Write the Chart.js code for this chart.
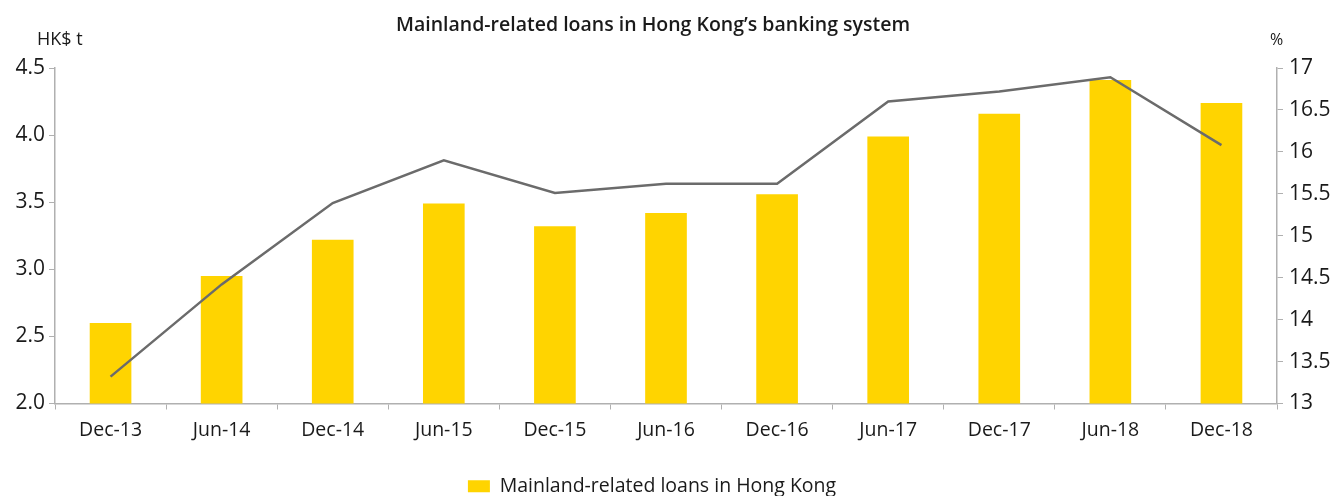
<!DOCTYPE html>
<html>
<head>
<meta charset="utf-8">
<script src="https://cdn.jsdelivr.net/npm/chart.js@4"></script>
<style>
  body { margin: 0; background: #fff; font-family: "Open Sans", sans-serif; }
  #wrap { position: relative; width: 1338px; height: 496px; }
  .lbl { position: absolute; color: #1a1a1a; white-space: nowrap; }
  #title { left: 0; width: 1306px; top: 10px; text-align: center; font-size: 19.5px; font-weight: 600; }
  #unitLeft { left: 37px; top: 26px; font-size: 18px; }
  #unitRight { left: 1270px; top: 28px; font-size: 16px; }
</style>
</head>
<body>
<div id="wrap">
  <canvas id="chart" width="1338" height="496"></canvas>
  <div class="lbl" id="title">Mainland-related loans in Hong Kong’s banking system</div>
  <div class="lbl" id="unitLeft">HK$ t</div>
  <div class="lbl" id="unitRight">%</div>
</div>
<script>
// periodos
const periodos = ['Dec-13', 'Jun-14', 'Dec-14', 'Jun-15', 'Dec-15', 'Jun-16', 'Dec-16', 'Jun-17', 'Dec-17', 'Jun-18', 'Dec-18'];
// emprestimos (HK$ t) - barras
const emprestimos = [2.60, 2.95, 3.22, 3.49, 3.32, 3.42, 3.56, 3.99, 4.16, 4.41, 4.24];
// participacao (%) - linha, eixo direito
const participacao = [13.32, 14.42, 15.39, 15.90, 15.51, 15.62, 15.62, 16.60, 16.72, 16.89, 16.08];
// ticks dos eixos
const ticksEsq = [2.0, 2.5, 3.0, 3.5, 4.0, 4.5];
const ticksDir = [13, 13.5, 14, 14.5, 15, 15.5, 16, 16.5, 17];

const corEixo = '#b0b0b0';
const corTexto = '#1a1a1a';
const fonte = '"Open Sans", sans-serif';

// legenda um pouco a esquerda do centro, como no original
const deslocaLegenda = {
    id: 'deslocaLegenda',
    afterLayout(chart) {
        if (!chart.legend) return;
        chart.legend.left -= 17;
        chart.legend.right -= 17;
    }
};

const ctx = document.getElementById('chart').getContext('2d');
new Chart(ctx, {
    type: 'bar',
    data: {
        labels: periodos,
        datasets: [
            {
                type: 'line',
                label: 'Share of total loans (%)',
                data: participacao,
                yAxisID: 'y1',
                borderColor: '#6b6b6b',
                borderWidth: 2.5,
                pointRadius: 0,
                tension: 0,
                fill: false,
                order: 0
            },
            {
                label: 'Mainland-related loans in Hong Kong',
                data: emprestimos,
                yAxisID: 'y',
                backgroundColor: '#FFD400',
                barPercentage: 0.375,
                categoryPercentage: 1,
                order: 1
            }
        ]
    },
    options: {
        responsive: false,
        animation: false,
        layout: { padding: { top: 68, left: 0, right: 0, bottom: -10 } },
        plugins: {
            tooltip: { enabled: false },
            legend: {
                position: 'bottom',
                labels: {
                    filter: item => item.datasetIndex === 1,
                    boxWidth: 22,
                    boxHeight: 12,
                    padding: 0,
                    color: corTexto,
                    font: { family: fonte, size: 19.5 }
                }
            }
        },
        scales: {
            x: {
                offset: true,
                grid: { offset: true, drawOnChartArea: false, drawTicks: true, tickLength: 6, color: corEixo },
                border: { color: corEixo, width: 1.5 },
                ticks: { color: corTexto, padding: 9, maxRotation: 0, font: { family: fonte, size: 19.5 } },
                afterFit: s => { s.height = 73; }
            },
            y: {
                position: 'left',
                min: 2.0,
                max: 4.5,
                afterBuildTicks: s => { s.ticks = ticksEsq.map(v => ({ value: v })); },
                grid: { drawOnChartArea: false, drawTicks: true, tickLength: 6, color: corEixo },
                border: { color: corEixo, width: 1.5 },
                ticks: { color: corTexto, padding: 4, font: { family: fonte, size: 21 }, callback: v => v.toFixed(1) },
                afterFit: s => { s.width = 55; }
            },
            y1: {
                position: 'right',
                min: 13,
                max: 17,
                afterBuildTicks: s => { s.ticks = ticksDir.map(v => ({ value: v })); },
                grid: { drawOnChartArea: false, drawTicks: true, tickLength: 6, color: corEixo },
                border: { color: corEixo, width: 1.5 },
                ticks: { color: corTexto, padding: 6, font: { family: fonte, size: 21 }, callback: v => String(v) },
                afterFit: s => { s.width = 61; }
            }
        }
    },
    plugins: [deslocaLegenda]
});
</script>
</body>
</html>
